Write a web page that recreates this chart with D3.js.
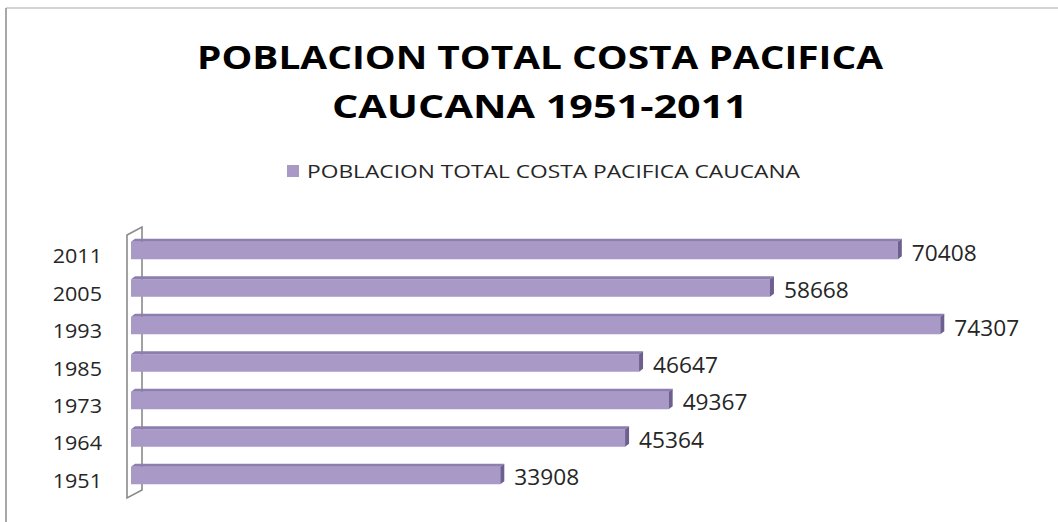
<!DOCTYPE html>
<html>
<head>
<meta charset="utf-8">
<script src="https://cdn.jsdelivr.net/npm/d3@7"></script>
<style>
  body { margin: 0; background: #fff; }
  text { font-family: "Open Sans", "DejaVu Sans", sans-serif; fill: #262626; }
</style>
</head>
<body>
<div id="plot"></div>
<script>
// data (top to bottom)
const years = ["2011", "2005", "1993", "1985", "1973", "1964", "1951"];
const poblacion = [70408, 58668, 74307, 46647, 49367, 45364, 33908];
const seriesName = "POBLACION TOTAL COSTA PACIFICA CAUCANA";
const titleLines = ["POBLACION TOTAL COSTA PACIFICA", "CAUCANA 1951-2011"];

const width = 1058, height = 522;

const svg = d3.select("#plot")
    .append("svg")
    .attr("width", width)
    .attr("height", height);

// fits a text to a given width (the original picture is stretched)
function fit(sel, w) {
    sel.attr("textLength", w).attr("lengthAdjust", "spacingAndGlyphs");
}
function stretch(sel, k) {
    sel.each(function() {
        const n = this.getComputedTextLength();
        d3.select(this).attr("textLength", n * k).attr("lengthAdjust", "spacingAndGlyphs");
    });
}

// chart frame (only top and left edges show)
svg.append("line").attr("x1", 6).attr("x2", width).attr("y1", 8).attr("y2", 8)
    .attr("stroke", "#c6c6c6").attr("stroke-width", 1.5);
svg.append("line").attr("x1", 6).attr("x2", 6).attr("y1", 8).attr("y2", height)
    .attr("stroke", "#a8a8a8").attr("stroke-width", 2);

// title
const titleW = [686, 416], titleY = [69, 118];
titleLines.forEach((t, i) => {
    svg.append("text")
        .attr("x", 540).attr("y", titleY[i])
        .attr("text-anchor", "middle")
        .style("font-size", "33px").style("font-weight", "bold")
        .style("fill", "#000")
        .text(t)
        .call(fit, titleW[i]);
});

const barColor = "#a899c6", topColor = "#8c7eae", sideColor = "#6d608f";

// legend
svg.append("rect").attr("x", 287).attr("y", 165).attr("width", 12).attr("height", 12)
    .attr("fill", barColor);
svg.append("text").attr("x", 307).attr("y", 178)
    .style("font-size", "19px")
    .text(seriesName)
    .call(fit, 493);

// scales
const x = d3.scaleLinear().domain([0, 80000]).range([131, 1002.3]);
const y = d3.scaleBand().domain(years).range([231.75, 494.25])
    .paddingInner(0.533).paddingOuter(0.2667);

// back wall (3d)
const wd = {dx: 15, dy: 8};
svg.append("path")
    .attr("d", `M127,235 L${127 + wd.dx},${235 - wd.dy} L${127 + wd.dx},${498 - wd.dy} L127,498 Z`)
    .attr("fill", "#fff")
    .attr("stroke", "#8a8a8a")
    .attr("stroke-width", 1.6);

// bars
const bd = {dx: 4, dy: 3};
const bars = svg.append("g")
    .selectAll("g")
    .data(years.map((d, i) => ({year: d, value: poblacion[i]})))
    .enter()
    .append("g");

bars.append("rect")
    .attr("x", x(0))
    .attr("y", d => y(d.year))
    .attr("width", d => x(d.value) - x(0))
    .attr("height", y.bandwidth())
    .attr("fill", barColor);

bars.append("path")
    .attr("d", d => {
        const x0 = x(0), x1 = x(d.value), yt = y(d.year);
        return `M${x0},${yt} L${x1},${yt} L${x1 + bd.dx},${yt - bd.dy} L${x0 + bd.dx},${yt - bd.dy} Z`;
    })
    .attr("fill", topColor);

bars.append("path")
    .attr("d", d => {
        const x1 = x(d.value), yt = y(d.year), yb = yt + y.bandwidth();
        return `M${x1},${yt} L${x1 + bd.dx},${yt - bd.dy} L${x1 + bd.dx},${yb - bd.dy} L${x1},${yb} Z`;
    })
    .attr("fill", sideColor);

// value labels
bars.append("text")
    .attr("x", d => x(d.value) + 14)
    .attr("y", d => y(d.year) + y.bandwidth() / 2 + 10)
    .style("font-size", "21px")
    .text(d => d.value)
    .call(stretch, 1.08);

// category labels
svg.append("g")
    .selectAll("text")
    .data(years)
    .enter()
    .append("text")
    .attr("x", 102)
    .attr("y", d => y(d) + y.bandwidth() / 2 + 12.5)
    .attr("text-anchor", "end")
    .style("font-size", "20.5px")
    .text(d => d)
    .call(stretch, 1.05);
</script>
</body>
</html>
